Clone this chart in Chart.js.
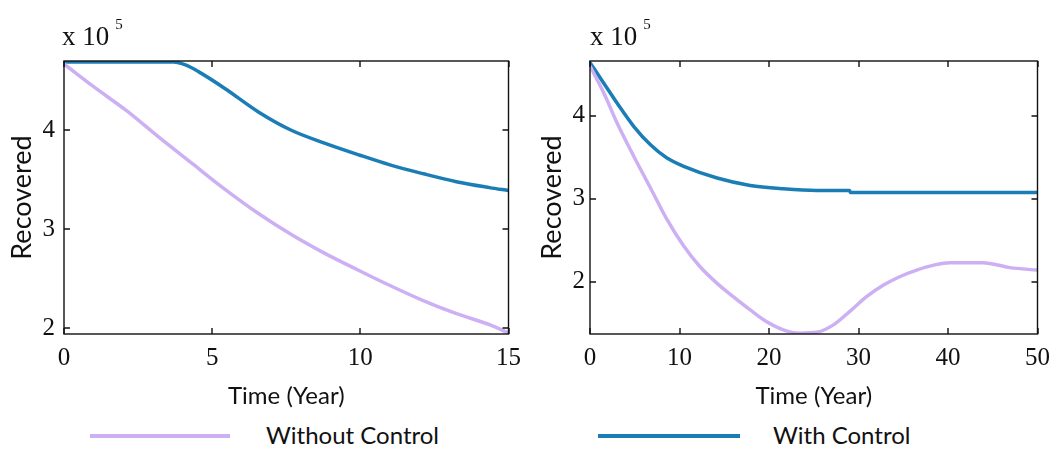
<!DOCTYPE html>
<html>
<head>
<meta charset="utf-8">
<script src="https://cdn.jsdelivr.net/npm/chart.js@4.4.1/dist/chart.umd.min.js"></script>
<style>
  body { margin: 0; background: #fff; }
  #page { position: relative; width: 1059px; height: 450px; overflow: hidden; }
  canvas { position: absolute; top: 0; }
  .expo { position: absolute; top: 21px; font-family: "Liberation Serif", serif; font-size: 27px; color: #111; }
  .expo sup { font-size: 15px; position: relative; top: -6px; margin-left: 6px; }
  .legend { position: absolute; top: 423px; font-family: Lato, sans-serif; font-size: 24px; line-height: 24px; color: #111; }
  .swatch { position: absolute; top: 434px; height: 4px; }
</style>
</head>
<body>
<div id="page">
  <canvas id="leftChart" width="530" height="420" style="left:0"></canvas>
  <canvas id="rightChart" width="529" height="420" style="left:530px"></canvas>
  <div class="expo" style="left:62px">x 10<sup>5</sup></div>
  <div class="expo" style="left:590px">x 10<sup>5</sup></div>
  <div class="swatch" style="left:90px;width:140px;background:#cdb0f3"></div>
  <div class="legend" style="left:266px">Without Control</div>
  <div class="swatch" style="left:598px;width:142px;background:#1b7db6"></div>
  <div class="legend" style="left:773px">With Control</div>
</div>
<script>
// DATA

const withoutColor = "#cdb0f3";
const withColor = "#1b7db6";

// left panel, 0-15 years
const leftWithTime = [0, 3.7, 4.1, 4.55, 5.44, 6.56, 7.67, 8.79, 9.96, 11.0, 12.13, 13.24, 14.36, 15];
const leftWithValues = [4.69, 4.69, 4.66, 4.59, 4.42, 4.185, 4.0, 3.87, 3.75, 3.65, 3.56, 3.48, 3.42, 3.39];
const leftWithoutTime = [0, 1, 2.1, 3.2, 4.3, 5.4, 6.6, 7.7, 8.8, 9.9, 11, 12.1, 13.2, 14.4, 15];
const leftWithoutValues = [4.67, 4.44, 4.2, 3.93, 3.67, 3.41, 3.15, 2.94, 2.755, 2.59, 2.43, 2.28, 2.15, 2.03, 1.95];
const leftXTicks = [0, 5, 10, 15];
const leftYTicks = [2, 3, 4];

// right panel, 0-50 years
const rightWithTime = [0, 1.56, 3.04, 4.9, 6.76, 8.6, 10.47, 14.2, 17.9, 21.6, 25.3, 29.0, 29.1, 50];
const rightWithValues = [4.64, 4.39, 4.15, 3.87, 3.65, 3.49, 3.39, 3.25, 3.16, 3.12, 3.1, 3.1, 3.075, 3.075];
const rightWithoutTime = [0, 1.56, 3.04, 4.9, 6.76, 8.6, 10.47, 12.3, 14.2, 16.0, 17.9, 19.7, 21.6, 23.4, 25.3, 27.2, 29.0, 30.9, 32.8, 34.6, 36.5, 38.4, 40.2, 43.9, 46.9, 50];
const rightWithoutValues = [4.6, 4.27, 3.91, 3.51, 3.13, 2.75, 2.43, 2.18, 1.98, 1.82, 1.66, 1.52, 1.42, 1.38, 1.39, 1.48, 1.64, 1.82, 1.96, 2.06, 2.14, 2.2, 2.23, 2.23, 2.17, 2.14];
const rightXTicks = [0, 10, 20, 30, 40, 50];
const rightYTicks = [2, 3, 4];

// MATLAB-LIKE BOX WITH INWARD TICKS

const boxPlugin = {
    id: "matlabBox",
    afterDraw(chart) {
        const { ctx, chartArea, scales } = chart;
        const { left, right, top, bottom } = chartArea;
        ctx.save();
        ctx.strokeStyle = "#111";
        ctx.lineWidth = 1.4;
        ctx.strokeRect(left, top, right - left, bottom - top);
        ctx.beginPath();
        scales.x.ticks.forEach((tick) => {
            const px = Math.round(scales.x.getPixelForValue(tick.value));
            ctx.moveTo(px, bottom);
            ctx.lineTo(px, bottom - 6);
            ctx.moveTo(px, top);
            ctx.lineTo(px, top + 6);
        });
        scales.y.ticks.forEach((tick) => {
            const py = Math.round(scales.y.getPixelForValue(tick.value));
            ctx.moveTo(left, py);
            ctx.lineTo(left + 6, py);
            ctx.moveTo(right, py);
            ctx.lineTo(right - 6, py);
        });
        ctx.stroke();
        ctx.restore();
    },
};

Chart.defaults.font.family = "'Liberation Serif', serif";
Chart.defaults.color = "#111";

const toPoints = (times, values) => times.map((t, i) => ({ x: t, y: values[i] }));

/**
 * @param {HTMLCanvasElement} canvas
 */
function createPanel(canvas, opts) {
    const lineStyle = {
        borderWidth: 3.5,
        pointRadius: 0,
        cubicInterpolationMode: "monotone",
    };
    return new Chart(canvas, {
        type: "line",
        data: {
            datasets: [
                {
                    label: "Without Control",
                    data: toPoints(opts.withoutTime, opts.withoutValues),
                    borderColor: withoutColor,
                    ...lineStyle,
                },
                {
                    label: "With Control",
                    data: toPoints(opts.withTime, opts.withValues),
                    borderColor: withColor,
                    ...lineStyle,
                },
            ],
        },
        options: {
            responsive: false,
            animation: false,
            events: [],
            layout: { padding: { top: 61, right: opts.rightPad, left: 0, bottom: 0 } },
            plugins: { legend: { display: false }, tooltip: { enabled: false } },
            scales: {
                x: {
                    type: "linear",
                    min: opts.xTicks[0],
                    max: opts.xTicks[opts.xTicks.length - 1],
                    afterBuildTicks: (scale) => {
                        scale.ticks = opts.xTicks.map((value) => ({ value }));
                    },
                    afterFit: (scale) => {
                        scale.height = 420 - 334;
                    },
                    grid: { display: false, drawTicks: false },
                    border: { display: false },
                    ticks: { font: { size: 25 }, padding: 9, maxRotation: 0 },
                    title: {
                        display: true,
                        text: "Time (Year)",
                        font: { family: "Lato, sans-serif", size: 24 },
                        padding: { top: 0, bottom: 9 },
                    },
                },
                y: {
                    min: opts.yMin,
                    max: opts.yMax,
                    afterBuildTicks: (scale) => {
                        scale.ticks = opts.yTicks.map((value) => ({ value }));
                    },
                    afterFit: (scale) => {
                        scale.width = opts.yWidth;
                    },
                    grid: { display: false, drawTicks: false },
                    border: { display: false },
                    ticks: { font: { size: 25 }, padding: opts.yPad },
                    title: {
                        display: true,
                        text: "Recovered",
                        font: { family: "Lato, sans-serif", size: 27 },
                        padding: { top: 6, bottom: 0 },
                    },
                },
            },
        },
        plugins: [boxPlugin],
    });
}

createPanel(document.getElementById("leftChart"), {
    withTime: leftWithTime,
    withValues: leftWithValues,
    withoutTime: leftWithoutTime,
    withoutValues: leftWithoutValues,
    xTicks: leftXTicks,
    yTicks: leftYTicks,
    yMin: 1.94,
    yMax: 4.7,
    yWidth: 64,
    yPad: 9,
    rightPad: 17,
});

createPanel(document.getElementById("rightChart"), {
    withTime: rightWithTime,
    withValues: rightWithValues,
    withoutTime: rightWithoutTime,
    withoutValues: rightWithoutValues,
    xTicks: rightXTicks,
    yTicks: rightYTicks,
    yMin: 1.37,
    yMax: 4.66,
    yWidth: 60,
    yPad: 5,
    rightPad: 19,
});
</script>
</body>
</html>
